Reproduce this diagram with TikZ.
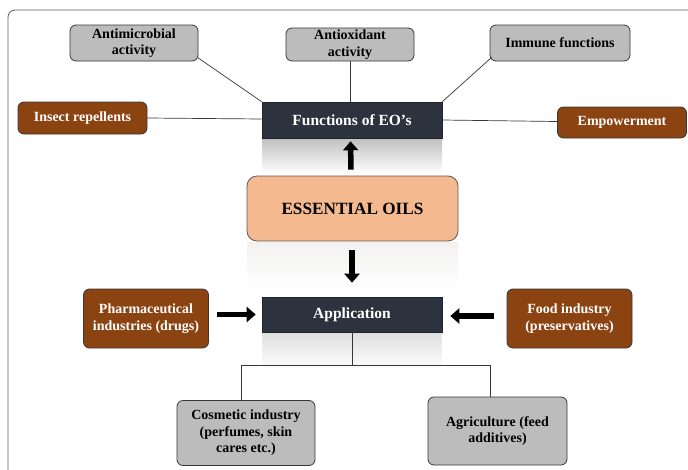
\documentclass[tikz,border=0pt]{standalone}
\usepackage{fontspec}
\setmainfont{Liberation Serif}
\usetikzlibrary{arrows.meta}
\definecolor{boxgray}{RGB}{188,188,188}
\definecolor{brownfill}{RGB}{139,67,18}
\definecolor{darkfill}{RGB}{44,51,63}
\definecolor{peach}{RGB}{244,185,142}
\definecolor{edgec}{RGB}{55,55,55}
\definecolor{framec}{RGB}{90,90,90}
\begin{document}
\begin{tikzpicture}[x=1pt,y=-1pt,
  base/.style={rounded corners=6pt, draw=edgec, line width=0.8pt, align=center,
    font=\bfseries\fontsize{14}{16.5}\selectfont, inner sep=0pt},
  graybox/.style={base, fill=boxgray, text=black},
  brownbox/.style={base, fill=brownfill, text=white},
  darkbox/.style={draw=darkfill!70!black, line width=0.6pt, fill=darkfill, text=white, align=center,
    font=\bfseries\fontsize{15.5}{18}\selectfont, inner sep=0pt},
  mainbox/.style={base, rounded corners=10pt, fill=peach, draw=framec, text=black,
    font=\bfseries\fontsize{17.2}{20}\selectfont},
  link/.style={draw=edgec, line width=0.7pt},
  bigarrow/.style={line width=5.5pt, -{Triangle[width=15pt,length=9pt]}},
  reflect/.style={top color=#1, bottom color=white, draw=none}
]
\useasboundingbox (0,0) rectangle (688,469);
% frame
\draw[framec, line width=0.8pt, rounded corners=7pt] (8,475) -- (8,10) -- (700,10);

% reflections
\shade[reflect=gray!50] (262,138) rectangle (442,174);
\shade[reflect=peach!20!gray!12] (247,242) rectangle (458,290);
\shade[reflect=gray!25] (262,333) rectangle (442,370);

% top nodes
\node[graybox, minimum width=128pt, minimum height=36pt] (anti) at (134,43) {Antimicrobial\\activity};
\node[graybox, minimum width=128pt, minimum height=33pt] (antiox) at (350,44.5) {Antioxidant\\activity};
\node[graybox, minimum width=140pt, minimum height=36pt] (immune) at (560,43) {Immune functions};
\node[brownbox, minimum width=129pt, minimum height=32pt] (insect) at (82.5,118) {Insect repellents};
\node[darkbox, minimum width=180pt, minimum height=36pt] (func) at (352,120) {Functions of EO’s};
\node[brownbox, minimum width=129pt, minimum height=31pt] (emp) at (622,122.5) {Empowerment};

% essential oils
\node[mainbox, minimum width=211pt, minimum height=65pt] (eo) at (352.5,208.5) {ESSENTIAL OILS};

% application row
\node[darkbox, minimum width=180pt, minimum height=35pt] (app) at (352,314.5) {Application};
\node[brownbox, minimum width=125pt, minimum height=59pt] (pharma) at (146,318.5) {Pharmaceutical\\industries (drugs)};
\node[brownbox, minimum width=125pt, minimum height=59pt] (food) at (569.5,318.5) {Food industry\\(preservatives)};

% bottom nodes
\node[graybox, minimum width=138pt, minimum height=65pt] (cos) at (246,433) {Cosmetic industry\\(perfumes, skin\\cares etc.)};
\node[graybox, minimum width=139pt, minimum height=68pt] (agri) at (497.5,431) {Agriculture (feed\\additives)};

% connectors to functions
\draw[link] ([xshift=-1pt,yshift=4pt]anti.south east) -- (func.north west);
\draw[link] (antiox.south) -- (antiox.south |- func.north);
\draw[link] ([xshift=2pt,yshift=4pt]immune.south west) -- (func.north east);
\draw[link] (insect.east) -- ([yshift=1pt]func.west);
\draw[link] (func.east) -- ([yshift=1pt]emp.west);

% arrows
\draw[bigarrow] ([xshift=-1.5pt,yshift=6pt]eo.north) -- ([xshift=-1.5pt,yshift=-3pt]func.south);
\draw[bigarrow] ([xshift=-0.5pt,yshift=-9pt]eo.south) -- ([yshift=14pt]app.north);
\draw[bigarrow] ([xshift=8pt,yshift=4pt]pharma.east) -- ([xshift=-6pt]app.west);
\draw[bigarrow] ([xshift=-13pt,yshift=2.5pt]food.west) -- ([xshift=8pt,yshift=-1.5pt]app.east);

% tree
\coordinate (junc) at (352,365);
\coordinate (jl) at (241,365);
\coordinate (jr) at (490,365);
\draw[link] (app.south) -- (junc);
\draw[link] (junc) -- (jl) -- ([xshift=-5pt]cos.north);
\draw[link] (junc) -- (jr) -- ([xshift=-7.5pt]agri.north);
\end{tikzpicture}
\end{document}
